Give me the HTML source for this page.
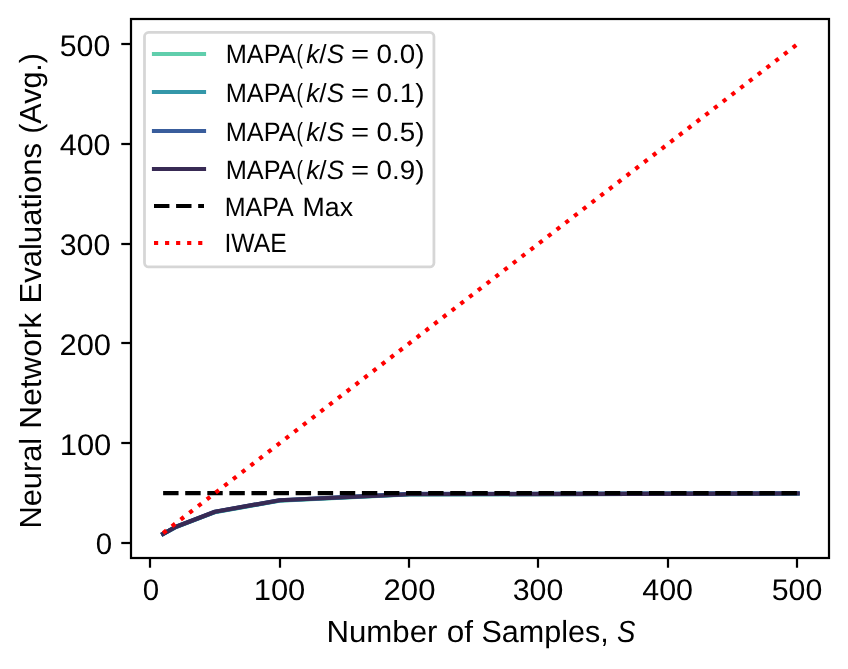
<!DOCTYPE html>
<html lang="en">
<head>
<meta charset="utf-8">
<title>Neural Network Evaluations vs Number of Samples</title>
<style>
html,body{margin:0;padding:0;background:#fff;}
body{width:848px;height:669px;overflow:hidden;}
svg{display:block;}
text{font-family:"Liberation Sans",sans-serif;fill:#000;text-rendering:geometricPrecision;}
</style>
</head>
<body>
<svg width="848" height="669" viewBox="0 0 848 669">
<rect x="0" y="0" width="848" height="669" fill="#ffffff"/>
<defs><clipPath id="axclip"><rect x="131.0" y="19.0" width="698.0" height="539.0"/></clipPath></defs>
<g clip-path="url(#axclip)" fill="none">
<polyline points="163.13,533.84 176.08,526.96 214.93,512.09 279.68,500.71 409.18,494.32 797.67,493.52" stroke="#60ceac" stroke-width="4.167" stroke-linecap="square" stroke-linejoin="round"/>
<polyline points="163.13,533.84 176.08,526.86 214.93,511.99 279.68,500.51 409.18,494.27 797.67,493.52" stroke="#3497a9" stroke-width="4.167" stroke-linecap="square" stroke-linejoin="round"/>
<polyline points="163.13,533.84 176.08,526.76 214.93,511.69 279.68,500.21 409.18,493.92 797.67,493.22" stroke="#395d9c" stroke-width="4.167" stroke-linecap="square" stroke-linejoin="round"/>
<polyline points="163.13,533.84 176.08,526.76 214.93,511.69 279.68,500.21 409.18,494.22 797.67,493.52" stroke="#382a54" stroke-width="4.167" stroke-linecap="square" stroke-linejoin="round"/>
<line x1="163.13" y1="493.12" x2="797.67" y2="493.12" stroke="#000" stroke-width="4.167" stroke-dasharray="15.418 6.667"/>
<line x1="163.13" y1="533.05" x2="797.67" y2="43.95" stroke="#ff0000" stroke-width="4.167" stroke-dasharray="4.167 6.876"/>
</g>
<g stroke="#000" stroke-width="2.222" fill="none">
<line x1="150" y1="558.0" x2="150" y2="567.72"/>
<line x1="280" y1="558.0" x2="280" y2="567.72"/>
<line x1="409" y1="558.0" x2="409" y2="567.72"/>
<line x1="538" y1="558.0" x2="538" y2="567.72"/>
<line x1="668" y1="558.0" x2="668" y2="567.72"/>
<line x1="797" y1="558.0" x2="797" y2="567.72"/>
<line x1="131.0" y1="543" x2="121.28" y2="543"/>
<line x1="131.0" y1="443" x2="121.28" y2="443"/>
<line x1="131.0" y1="343" x2="121.28" y2="343"/>
<line x1="131.0" y1="244" x2="121.28" y2="244"/>
<line x1="131.0" y1="144" x2="121.28" y2="144"/>
<line x1="131.0" y1="44" x2="121.28" y2="44"/>
<rect x="131.0" y="19.0" width="698.0" height="539.0"/>
</g>
<rect x="144.5" y="32.4" width="289.44" height="234.50" rx="4.2" ry="4.2" fill="#ffffff" fill-opacity="0.8" stroke="#cccccc" stroke-opacity="0.8" stroke-width="2.778"/>
<line x1="154.0" y1="54" x2="204.0" y2="54" stroke="#60ceac" stroke-width="4.167" stroke-linecap="square"/>
<line x1="154.0" y1="92" x2="204.0" y2="92" stroke="#3497a9" stroke-width="4.167" stroke-linecap="square"/>
<line x1="154.0" y1="131" x2="204.0" y2="131" stroke="#395d9c" stroke-width="4.167" stroke-linecap="square"/>
<line x1="154.0" y1="169" x2="204.0" y2="169" stroke="#382a54" stroke-width="4.167" stroke-linecap="square"/>
<line x1="154.0" y1="206" x2="204.0" y2="206" stroke="#000" stroke-width="4.167" stroke-linecap="butt" stroke-dasharray="15.418 6.667"/>
<line x1="154.0" y1="243" x2="204.0" y2="243" stroke="#ff0000" stroke-width="4.167" stroke-linecap="butt" stroke-dasharray="4.167 6.876"/>
<g opacity="0.999">
<text transform="translate(142.772,600.000) scale(1.0611,1.0710)" font-size="27.78px">0</text>
<text transform="translate(253.677,600.000) scale(1.1151,1.0710)" font-size="27.78px">100</text>
<text transform="translate(383.544,600.000) scale(1.1202,1.0710)" font-size="27.78px">200</text>
<text transform="translate(512.737,600.000) scale(1.0914,1.0710)" font-size="27.78px">300</text>
<text transform="translate(642.238,600.000) scale(1.0971,1.0710)" font-size="27.78px">400</text>
<text transform="translate(771.737,600.000) scale(1.0914,1.0710)" font-size="27.78px">500</text>
<text transform="translate(95.772,554.000) scale(1.0611,1.0710)" font-size="27.78px">0</text>
<text transform="translate(59.677,455.000) scale(1.1151,1.0710)" font-size="27.78px">100</text>
<text transform="translate(59.452,355.000) scale(1.1145,1.0710)" font-size="27.78px">200</text>
<text transform="translate(59.737,255.000) scale(1.0914,1.0710)" font-size="27.78px">300</text>
<text transform="translate(59.738,155.000) scale(1.0971,1.0710)" font-size="27.78px">400</text>
<text transform="translate(59.737,56.000) scale(1.0914,1.0710)" font-size="27.78px">500</text>
<text transform="translate(326.398,642.000) scale(1.1242,1.0985)" font-size="27.78px">Number</text>
<text transform="translate(446.684,642.000) scale(1.1368,1.0985)" font-size="27.78px">of</text>
<text transform="translate(481.472,642.000) scale(1.1001,1.0985)" font-size="27.78px">Samples,</text>
<text transform="translate(617.081,642.000) scale(0.9924,1.0985)" font-size="27.78px"><tspan font-style="italic">S</tspan></text>
<text transform="translate(41.000,528.567) rotate(-90) scale(1.1090,1.0985)" font-size="27.78px">Neural</text>
<text transform="translate(41.000,428.628) rotate(-90) scale(1.1353,1.0985)" font-size="27.78px">Network</text>
<text transform="translate(41.000,303.591) rotate(-90) scale(1.1192,1.0985)" font-size="27.78px">Evaluations</text>
<text transform="translate(41.000,133.784) rotate(-90) scale(1.0979,1.0985)" font-size="27.78px">(Avg.)</text>
<text transform="translate(225.684,63.000) scale(1.0150,1.0550)" font-size="25.0px">MAPA</text>
<text transform="translate(296.581,63.000) scale(0.7712,1.0550)" font-size="25.0px">(</text>
<text transform="translate(306.312,63.000) scale(1.0448,1.0550)" font-size="25.0px"><tspan font-style="italic">k</tspan>/<tspan font-style="italic">S</tspan></text>
<text transform="translate(351.106,63.000) scale(1.2441,1.0550)" font-size="25.0px">=</text>
<text transform="translate(376.521,63.000) scale(1.1109,1.0550)" font-size="25.0px">0.0)</text>
<text transform="translate(225.684,102.000) scale(1.0150,1.0550)" font-size="25.0px">MAPA</text>
<text transform="translate(296.581,102.000) scale(0.7712,1.0550)" font-size="25.0px">(</text>
<text transform="translate(306.312,102.000) scale(1.0448,1.0550)" font-size="25.0px"><tspan font-style="italic">k</tspan>/<tspan font-style="italic">S</tspan></text>
<text transform="translate(351.106,102.000) scale(1.2441,1.0550)" font-size="25.0px">=</text>
<text transform="translate(376.521,102.000) scale(1.1109,1.0550)" font-size="25.0px">0.1)</text>
<text transform="translate(225.684,141.000) scale(1.0150,1.0550)" font-size="25.0px">MAPA</text>
<text transform="translate(296.581,141.000) scale(0.7712,1.0550)" font-size="25.0px">(</text>
<text transform="translate(306.312,141.000) scale(1.0448,1.0550)" font-size="25.0px"><tspan font-style="italic">k</tspan>/<tspan font-style="italic">S</tspan></text>
<text transform="translate(351.106,141.000) scale(1.2441,1.0550)" font-size="25.0px">=</text>
<text transform="translate(376.521,141.000) scale(1.1109,1.0550)" font-size="25.0px">0.5)</text>
<text transform="translate(225.684,179.000) scale(1.0150,1.0550)" font-size="25.0px">MAPA</text>
<text transform="translate(296.581,179.000) scale(0.7712,1.0550)" font-size="25.0px">(</text>
<text transform="translate(306.312,179.000) scale(1.0448,1.0550)" font-size="25.0px"><tspan font-style="italic">k</tspan>/<tspan font-style="italic">S</tspan></text>
<text transform="translate(351.106,179.000) scale(1.2441,1.0550)" font-size="25.0px">=</text>
<text transform="translate(376.521,179.000) scale(1.1109,1.0550)" font-size="25.0px">0.9)</text>
<text transform="translate(224.712,216.000) scale(1.0016,1.0550)" font-size="25.0px">MAPA</text>
<text transform="translate(302.572,216.000) scale(1.0689,1.0550)" font-size="25.0px">Max</text>
<text transform="translate(224.513,252.000) scale(0.9876,1.0550)" font-size="25.0px">IWAE</text>
</g>
</svg>
</body>
</html>
